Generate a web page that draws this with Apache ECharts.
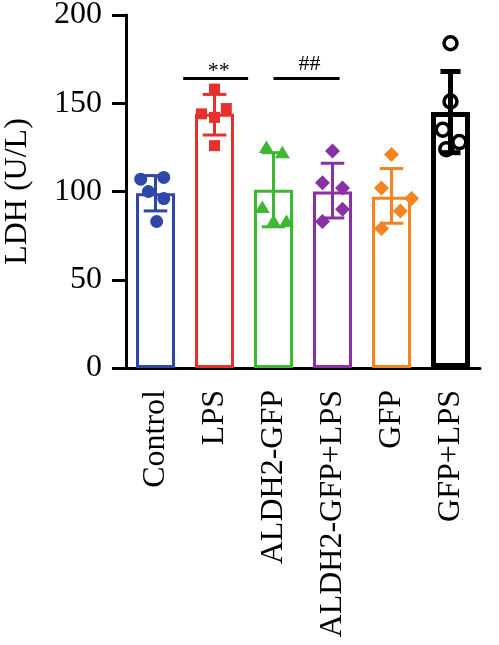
<!DOCTYPE html>
<html>
<head>
<meta charset="utf-8">
<script src="https://cdn.jsdelivr.net/npm/echarts@6/dist/echarts.min.js"></script>
<style>
html,body{margin:0;padding:0;background:#fff;}
#chart{width:499px;height:645px;}
</style>
</head>
<body>
<div id="chart"></div>
<script>
// groups and summary values (LDH, U/L)
var groups = ['Control', 'LPS', 'ALDH2-GFP', 'ALDH2-GFP+LPS', 'GFP', 'GFP+LPS'];
var means = [99, 144, 101, 100, 97, 145];
var sdLow = [89, 132, 80, 85, 82, 122];
var sdHigh = [109, 155, 122, 116, 113, 168];

// individual points per group
var ptsControl = [107, 108, 100, 96, 83];
var ptsLPS = [158, 144, 142, 147, 126];
var ptsAldh = [125, 122, 91, 83, 83];
var ptsAldhLPS = [123, 105, 102, 90, 83];
var ptsGFP = [121, 102, 96, 89, 79];
var ptsGFPLPS = [184, 151, 135, 128, 124];

// horizontal jitter of the points, fraction of a category band
var jitControl = [-0.25, 0.14, -0.12, 0.14, 0.02];
var jitLPS = [0, -0.22, 0, 0.2, 0];
var jitAldh = [-0.12, 0.15, -0.19, 0, 0.22];
var jitAldhLPS = [0, -0.17, 0.17, 0.17, -0.17];
var jitGFP = [0, -0.17, 0.34, 0.15, -0.17];
var jitGFPLPS = [0, 0, -0.13, 0.15, -0.07];

// significance bars (category positions, y value, label)
var sigFrom = [0.47, 2.0];
var sigTo = [1.57, 3.12];
var sigY = [164, 164];
var sigText = ['**', '##'];
var sigNudge = [4, -3];

var colors = ['#2f47a6', '#e5302d', '#3cb832', '#8a2fa4', '#f5831f', '#000000'];
var shapes = ['circle', 'square', 'triangle', 'diamond', 'diamond', 'ring'];
var allPts = [ptsControl, ptsLPS, ptsAldh, ptsAldhLPS, ptsGFP, ptsGFPLPS];
var allJit = [jitControl, jitLPS, jitAldh, jitAldhLPS, jitGFP, jitGFPLPS];

var font = 'Liberation Serif';

function bandWidth(api) {
    var a = api.coord([0, 0]);
    var b = api.coord([1, 0]);
    return b[0] - a[0];
}

var pointData = [];
allPts.forEach(function (arr, g) {
    arr.forEach(function (v, k) {
        pointData.push([g, v, allJit[g][k]]);
    });
});

var chart = echarts.init(document.getElementById('chart'));
chart.setOption({
    animation: false,
    grid: {left: 126, right: 19, top: 15, bottom: 277, outerBoundsMode: 'none', containLabel: false},
    xAxis: {
        type: 'category',
        data: groups,
        axisLine: {lineStyle: {color: '#000', width: 3}},
        axisTick: {alignWithLabel: true, length: 13, lineStyle: {width: 3, color: '#000'}},
        axisLabel: {rotate: 90, margin: 22, fontSize: 32, fontFamily: font, color: '#000'}
    },
    yAxis: {
        type: 'value',
        min: 0,
        max: 200,
        interval: 50,
        name: 'LDH (U/L)',
        nameLocation: 'middle',
        nameGap: 92,
        nameMoveOverlap: false,
        nameTextStyle: {fontSize: 32, fontFamily: font, color: '#000'},
        splitLine: {show: false},
        axisLine: {show: true, lineStyle: {color: '#000', width: 3}},
        axisTick: {show: true, length: 14, lineStyle: {width: 3, color: '#000'}},
        axisLabel: {margin: 24, fontSize: 32, fontFamily: font, color: '#000'}
    },
    series: [
        {
            type: 'bar',
            barWidth: 39,
            z: 2,
            data: means.map(function (m, i) {
                return {
                    value: m,
                    itemStyle: {color: '#fff', borderColor: colors[i], borderWidth: i === 5 ? 5 : 3}
                };
            })
        },
        {
            // error bars
            type: 'custom',
            z: 3,
            data: groups.map(function (g, i) { return [i, sdLow[i], sdHigh[i]]; }),
            renderItem: function (params, api) {
                var i = api.value(0);
                var lo = api.coord([i, api.value(1)]);
                var hi = api.coord([i, api.value(2)]);
                var half = bandWidth(api) * (i === 5 ? 0.17 : 0.2);
                var st = {stroke: colors[i], lineWidth: i === 5 ? 5 : 3};
                return {
                    type: 'group',
                    children: [
                        {type: 'line', shape: {x1: lo[0], y1: lo[1], x2: hi[0], y2: hi[1]}, style: st},
                        {type: 'line', shape: {x1: hi[0] - half, y1: hi[1], x2: hi[0] + half, y2: hi[1]}, style: st},
                        {type: 'line', shape: {x1: lo[0] - half, y1: lo[1], x2: lo[0] + half, y2: lo[1]}, style: st}
                    ]
                };
            }
        },
        {
            // individual points
            type: 'custom',
            z: 4,
            data: pointData,
            renderItem: function (params, api) {
                var g = api.value(0);
                var p = api.coord([g, api.value(1)]);
                var x = p[0] + api.value(2) * bandWidth(api);
                var y = p[1];
                var c = colors[g];
                var s = shapes[g];
                if (s === 'circle') {
                    return {type: 'circle', shape: {cx: x, cy: y, r: 6.5}, style: {fill: c}};
                }
                if (s === 'square') {
                    return {type: 'rect', shape: {x: x - 5.5, y: y - 5.5, width: 11, height: 11}, style: {fill: c}};
                }
                if (s === 'triangle') {
                    return {type: 'polygon', shape: {points: [[x, y - 7], [x - 7.5, y + 5.5], [x + 7.5, y + 5.5]]}, style: {fill: c}};
                }
                if (s === 'diamond') {
                    return {type: 'polygon', shape: {points: [[x, y - 7.5], [x + 7.5, y], [x, y + 7.5], [x - 7.5, y]]}, style: {fill: c}};
                }
                return {type: 'circle', shape: {cx: x, cy: y, r: 6.5}, style: {fill: 'none', stroke: c, lineWidth: 3.5}};
            }
        },
        {
            // significance bars
            type: 'custom',
            z: 5,
            data: sigY.map(function (y, k) { return [sigFrom[k], sigTo[k], y, k]; }),
            renderItem: function (params, api) {
                var y = api.value(2);
                var k = api.value(3);
                var base = api.coord([0, y]);
                var bw = bandWidth(api);
                var x1 = base[0] + api.value(0) * bw;
                var x2 = base[0] + api.value(1) * bw;
                return {
                    type: 'group',
                    children: [
                        {type: 'line', shape: {x1: x1, y1: base[1], x2: x2, y2: base[1]}, style: {stroke: '#000', lineWidth: 3}},
                        {type: 'text', style: {
                            x: (x1 + x2) / 2 + 3, y: base[1] + sigNudge[k],
                            text: sigText[k],
                            fill: '#000', font: '22px "Liberation Serif"',
                            textAlign: 'center', textVerticalAlign: 'bottom'
                        }}
                    ]
                };
            }
        }
    ]
});
</script>
</body>
</html>
